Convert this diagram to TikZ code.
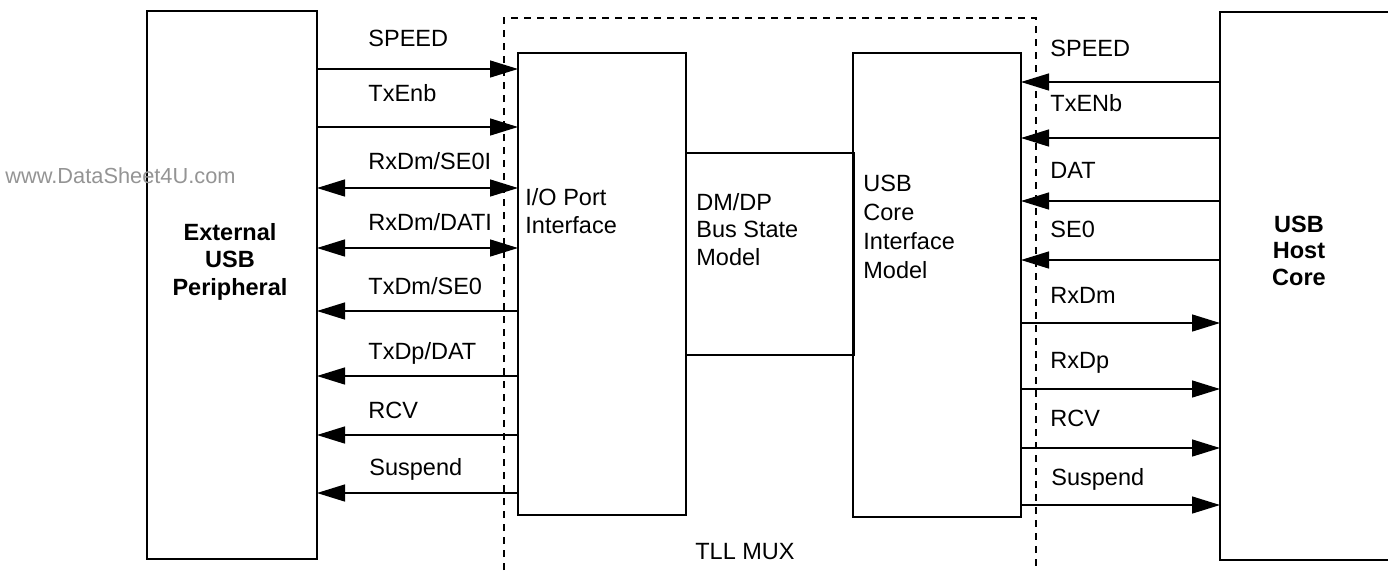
\documentclass[tikz,border=0pt]{standalone}
\usepackage{fontspec}
\setmainfont{Liberation Sans}
\usetikzlibrary{arrows.meta}
\begin{document}
\begin{tikzpicture}[x=0.5pt,y=-0.5pt,
  box/.style={draw, line width=0.85pt, inner sep=0pt, outer sep=0pt},
  sig/.style={line width=0.7pt, -{Triangle[length=14pt,width=8.5pt]}},
  bisig/.style={line width=0.7pt, {Triangle[length=14pt,width=8.5pt]}-{Triangle[length=14pt,width=8.5pt]}},
  lbl/.style={anchor=base west, inner sep=0pt, font=\fontsize{11.75}{14}\selectfont},
  blk/.style={inner sep=0pt, align=left, font=\fontsize{11.75}{14}\selectfont},
  bblk/.style={inner sep=0pt, align=center, font=\fontsize{11.75}{13.5}\selectfont\bfseries},
  mux/.style={dash pattern=on 3.5pt off 3pt, line width=0.6pt}]

\useasboundingbox (0,0) rectangle (1388,580);

% boxes
\node[box, minimum width=85pt, minimum height=274pt] (ext) at (232,285) {};
\node[box, minimum width=84pt, minimum height=231pt] (io) at (602,284) {};
\node[box, minimum width=84pt, minimum height=101pt] (dm) at (770,254) {};
\node[box, minimum width=84pt, minimum height=232pt] (core) at (937,285) {};
\node[box, minimum width=100pt, minimum height=274pt] (host) at (1320,286) {};

% TLL MUX dashed boundary
\coordinate (mbl) at (504,570);
\coordinate (mtl) at (504,18);
\coordinate (mtr) at (1036,18);
\coordinate (mbr) at (1036,570);
\draw[mux] (mbl) -- (mtl) -- (mtr) -- (mbr);
\node[blk, anchor=center] (tll) at (745,552) {TLL MUX};

% box texts (base anchor = baseline of last line)
\node[bblk, anchor=base, font=\fontsize{11.75}{13.75}\selectfont\bfseries] (extt) at (230,295.4) {External\\USB\\Peripheral};
\node[bblk, anchor=base, font=\fontsize{11.75}{13.25}\selectfont\bfseries] (hostt) at (1299,285.4) {USB\\Host\\Core};
\node[blk, anchor=base west] (iot) at (525,233.4) {I/O Port\\Interface};
\node[blk, anchor=base west, font=\fontsize{11.75}{13.75}\selectfont] (dmt) at (696,265.4) {DM/DP\\Bus State\\Model};
\node[blk, anchor=base west, font=\fontsize{11.75}{14.5}\selectfont] (coret) at (863,278.4) {USB\\Core\\Interface\\Model};

% watermark
\node[anchor=base west, inner sep=0pt, text=black!42, font=\fontsize{10.9}{12}\selectfont] (wm) at (5,183.8) {www.DataSheet4U.com};

% left signals
\draw[sig] (ext.east |- 0,69) -- (io.west |- 0,69);
\draw[sig] (ext.east |- 0,127) -- (io.west |- 0,127);
\draw[bisig] (ext.east |- 0,188) -- (io.west |- 0,188);
\draw[bisig] (ext.east |- 0,248) -- (io.west |- 0,248);
\draw[sig] (io.west |- 0,311) -- (ext.east |- 0,311);
\draw[sig] (io.west |- 0,376) -- (ext.east |- 0,376);
\draw[sig] (io.west |- 0,435) -- (ext.east |- 0,435);
\draw[sig] (io.west |- 0,493) -- (ext.east |- 0,493);

\node[lbl] (l1) at (368,46.4) {SPEED};
\node[lbl] (l2) at (368,101.4) {TxEnb};
\node[lbl] (l3) at (368,169.4) {RxDm/SE0I};
\node[lbl] (l4) at (368,230.4) {RxDm/DATI};
\node[lbl] (l5) at (368,294.4) {TxDm/SE0};
\node[lbl] (l6) at (368,359.4) {TxDp/DAT};
\node[lbl] (l7) at (368,418.4) {RCV};
\node[lbl] (l8) at (369,475.4) {Suspend};

% right signals
\draw[sig] (host.west |- 0,82) -- (core.east |- 0,82);
\draw[sig] (host.west |- 0,138) -- (core.east |- 0,138);
\draw[sig] (host.west |- 0,201) -- (core.east |- 0,201);
\draw[sig] (host.west |- 0,260) -- (core.east |- 0,260);
\draw[sig] (core.east |- 0,323) -- (host.west |- 0,323);
\draw[sig] (core.east |- 0,389) -- (host.west |- 0,389);
\draw[sig] (core.east |- 0,448) -- (host.west |- 0,448);
\draw[sig] (core.east |- 0,505) -- (host.west |- 0,505);

\node[lbl] (r1) at (1050,56.4) {SPEED};
\node[lbl] (r2) at (1050,111.4) {TxENb};
\node[lbl] (r3) at (1050,178.4) {DAT};
\node[lbl] (r4) at (1050,237.4) {SE0};
\node[lbl] (r5) at (1050,303.4) {RxDm};
\node[lbl] (r6) at (1050,368.4) {RxDp};
\node[lbl] (r7) at (1050,426.4) {RCV};
\node[lbl] (r8) at (1051,485.4) {Suspend};
\end{tikzpicture}
\end{document}
